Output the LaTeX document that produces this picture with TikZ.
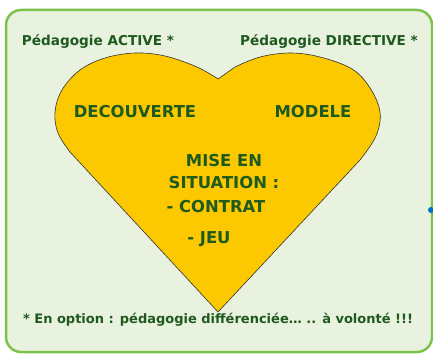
\documentclass[tikz,border=0pt]{standalone}
\usepackage{fontspec}
\setmainfont{DejaVu Sans}
\usepackage{tikz}
\usetikzlibrary{backgrounds,positioning}
\definecolor{leaf}{RGB}{125,194,75}
\definecolor{meadow}{RGB}{232,242,223}
\definecolor{gold}{RGB}{252,200,0}
\definecolor{ink}{RGB}{30,90,30}
\definecolor{dotblue}{RGB}{0,112,192}

\begin{document}
\begin{tikzpicture}[x=1pt,y=-1pt]
	% `heading' is used for the two top titles, `word' for the text in the heart.
	% `frame' is used for the green box round everything.
	\tikzstyle{frame} = [draw=leaf,fill=meadow,line width=2.5pt,rounded corners=15pt]
	\tikzstyle{heart} = [draw=black!80,fill=gold,line width=0.6pt,line join=round]
	\tikzstyle{heading} = [text=ink,font=\bfseries\fontsize{13.6}{15}\selectfont,inner sep=0pt]
	\tikzstyle{word} = [text=ink,font=\bfseries\fontsize{16.4}{19}\selectfont,inner sep=0pt]
	\tikzstyle{note} = [text=ink,font=\bfseries\fontsize{13}{15}\selectfont,inner sep=0pt]
	%
	\useasboundingbox (0,0) rectangle (433,353);
	\begin{pgfonlayer}{background}
		% Draw background box.
		\draw[frame] (6,10) rectangle (432,352);
		\fill[dotblue] (431,210) circle (3);
		% Draw the heart.
		\draw[heart] (218,312)
			-- plot[smooth,tension=.6] coordinates {(70,152) (58,133) (55,112) (62,90) (80,70) (105,58) (135,53) (165,56) (197,67) (218,79)}
			-- plot[smooth,tension=.6] coordinates {(235,67) (260,57) (290,53) (320,57) (352,69) (370,88) (380,112) (376,136) (360,160)}
			-- cycle;
	\end{pgfonlayer}
	% Titles.
	\node[heading] (active) at (98,42) {Pédagogie ACTIVE *};
	\node[heading] (directive) at (329,42) {Pédagogie DIRECTIVE *};
	% Words in the heart.
	\node[word] (decouverte) at (135,112) {DECOUVERTE};
	\node[word] (modele) at (313,112) {MODELE};
	\node[word] (mise) at (224,161) {MISE EN};
	\node[word] (situation) at (224,183) {SITUATION :};
	\node[word] (contrat) at (216,207) {- CONTRAT};
	\node[word] (jeu) at (209,239) {- JEU};
	% Footnote.
	\node[note] (option) at (218,320) {* En option : pédagogie différenciée… .. à volonté !!!};
\end{tikzpicture}
\end{document}
